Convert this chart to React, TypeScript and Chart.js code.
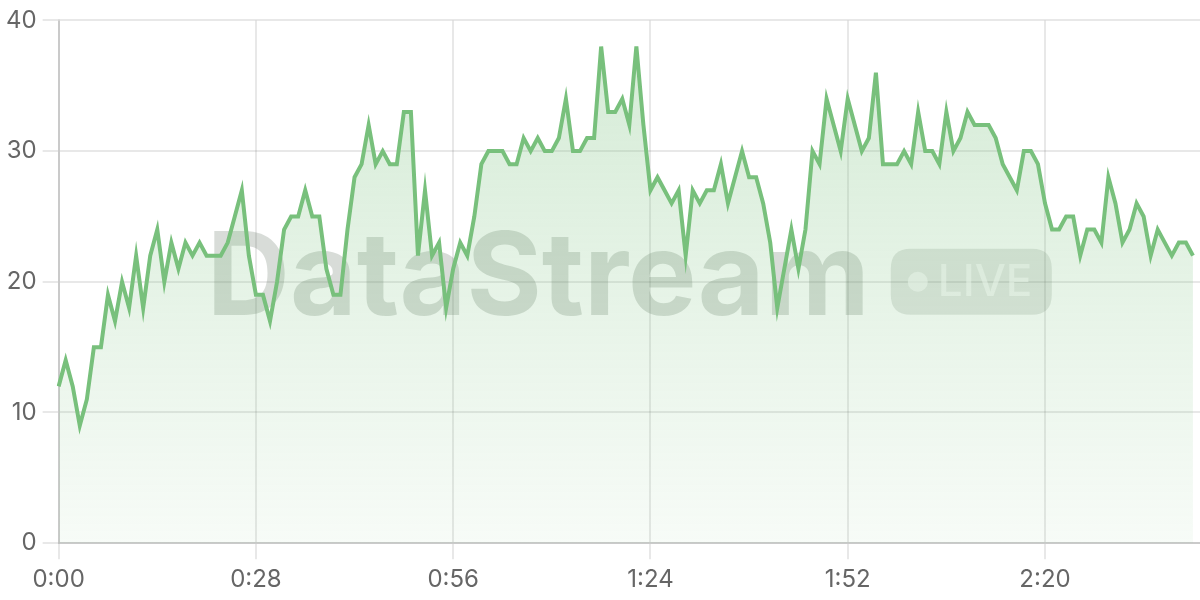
import React, { useEffect, useRef } from "react";
import { Chart, registerables } from "chart.js";

Chart.register(...registerables);

// seconds elapsed (category index) – 163 slots, data fills 162 of them
const SECONDS: number[] = Array.from({ length: 163 }, (_, i) => i);

const TICK_LABELS = ["0:00", "0:28", "0:56", "1:24", "1:52", "2:20"];
const TICK_EVERY = 28;

const VALUES: number[] = [
  12, 14, 12, 9, 11, 15, 15, 19, 17, 20,
  18, 22, 18, 22, 24, 20, 23, 21, 23, 22,
  23, 22, 22, 22, 23, 25, 27, 22, 19, 19,
  17, 20, 24, 25, 25, 27, 25, 25, 21, 19,
  19, 24, 28, 29, 32, 29, 30, 29, 29, 33,
  33, 22, 27, 22, 23, 18, 21, 23, 22, 25,
  29, 30, 30, 30, 29, 29, 31, 30, 31, 30,
  30, 31, 34, 30, 30, 31, 31, 38, 33, 33,
  34, 32, 38, 32, 27, 28, 27, 26, 27, 22,
  27, 26, 27, 27, 29, 26, 28, 30, 28, 28,
  26, 23, 18, 21, 24, 21, 24, 30, 29, 34,
  32, 30, 34, 32, 30, 31, 36, 29, 29, 29,
  30, 29, 33, 30, 30, 29, 33, 30, 31, 33,
  32, 32, 32, 31, 29, 28, 27, 30, 30, 29,
  26, 24, 24, 25, 25, 22, 24, 24, 23, 28,
  26, 23, 24, 26, 25, 22, 24, 23, 22, 23,
  23, 22,
];

const Y_MIN = 0;
const Y_MAX = 40;
const Y_STEP = 10;

const WATERMARK_TEXT = "DataStream";
const WATERMARK_BADGE = "LIVE";

const LINE_COLOR = "rgb(120, 192, 124)";
const FONT_FAMILY = "Inter, 'Helvetica Neue', Helvetica, Arial, sans-serif";

const watermarkPlugin = {
  id: "watermark",
  beforeDatasetsDraw(chart: any) {
    const { ctx, chartArea } = chart;
    const cx = (chartArea.left + chartArea.right) / 2;
    const cy = (chartArea.top + chartArea.bottom) / 2;
    ctx.save();
    ctx.font = `bold 100px ${FONT_FAMILY}`;
    const w100 = ctx.measureText(WATERMARK_TEXT).width;
    const size = (100 * 663) / w100;
    ctx.font = `bold ${size}px ${FONT_FAMILY}`;
    const textW = ctx.measureText(WATERMARK_TEXT).width;
    const gap = 21;
    const pillW = 161;
    const pillH = 66;
    const total = textW + gap + pillW;
    const x0 = cx - total / 2;
    const pillTop = cy - pillH / 2;
    const baseline = pillTop + pillH;
    ctx.fillStyle = "rgba(40, 60, 40, 0.18)";
    ctx.textBaseline = "alphabetic";
    ctx.textAlign = "left";
    ctx.fillText(WATERMARK_TEXT, x0, baseline);
    // pill
    const px = x0 + textW + gap;
    const r = 20;
    ctx.beginPath();
    ctx.moveTo(px + r, pillTop);
    ctx.lineTo(px + pillW - r, pillTop);
    ctx.quadraticCurveTo(px + pillW, pillTop, px + pillW, pillTop + r);
    ctx.lineTo(px + pillW, pillTop + pillH - r);
    ctx.quadraticCurveTo(px + pillW, pillTop + pillH, px + pillW - r, pillTop + pillH);
    ctx.lineTo(px + r, pillTop + pillH);
    ctx.quadraticCurveTo(px, pillTop + pillH, px, pillTop + pillH - r);
    ctx.lineTo(px, pillTop + r);
    ctx.quadraticCurveTo(px, pillTop, px + r, pillTop);
    ctx.closePath();
    ctx.fillStyle = "rgba(40, 60, 40, 0.13)";
    ctx.fill();
    ctx.fillStyle = "rgba(255, 255, 255, 0.6)";
    ctx.beginPath();
    ctx.arc(px + 27, pillTop + pillH / 2, 10, 0, Math.PI * 2);
    ctx.fill();
    ctx.font = `500 44px ${FONT_FAMILY}`;
    ctx.textBaseline = "middle";
    ctx.fillText(WATERMARK_BADGE, px + 47, pillTop + pillH / 2 + 1);
    ctx.restore();
  },
};

export default function App() {
  const canvasRef = useRef<HTMLCanvasElement | null>(null);

  useEffect(() => {
    document.body.style.margin = "0";
    const canvas = canvasRef.current;
    if (!canvas) return;
    const chart = new Chart(canvas, {
      type: "line",
      data: {
        labels: SECONDS,
        datasets: [
          {
            data: VALUES,
            borderColor: LINE_COLOR,
            borderWidth: 4,
            pointRadius: 0,
            tension: 0,
            fill: "origin",
            backgroundColor: (ctx: any) => {
              const area = ctx.chart.chartArea;
              if (!area) return "rgba(120,192,124,0.15)";
              const g = ctx.chart.ctx.createLinearGradient(0, area.top, 0, area.bottom);
              g.addColorStop(0, "rgba(120, 192, 124, 0.32)");
              g.addColorStop(1, "rgba(120, 192, 124, 0.06)");
              return g;
            },
          },
        ],
      },
      options: {
        responsive: false,
        animation: false,
        devicePixelRatio: 1,
        layout: { padding: { top: 8, right: 0, left: 0, bottom: 0 } },
        plugins: {
          legend: { display: false },
          tooltip: { enabled: false },
        },
        scales: {
          x: {
            grid: { color: "rgba(0,0,0,0.09)", lineWidth: 2, tickLength: 16 },
            border: { color: "rgba(0,0,0,0.13)", width: 2 },
            ticks: {
              autoSkip: false,
              maxRotation: 0,
              padding: 6,
              color: "#666",
              font: { size: 24, family: FONT_FAMILY },
              callback: (_v: any, i: number) =>
                i % TICK_EVERY === 0 && TICK_LABELS[i / TICK_EVERY] !== undefined
                  ? TICK_LABELS[i / TICK_EVERY]
                  : null,
            },
          },
          y: {
            min: Y_MIN,
            max: Y_MAX,
            grid: { color: "rgba(0,0,0,0.09)", lineWidth: 2, tickLength: 16 },
            border: { color: "rgba(0,0,0,0.13)", width: 2 },
            ticks: {
              stepSize: Y_STEP,
              padding: 6,
              color: "#666",
              font: { size: 24, family: FONT_FAMILY },
            },
          },
        },
      },
      plugins: [watermarkPlugin],
    });
    return () => chart.destroy();
  }, []);

  return (
    <div style={{ width: 1200, height: 600 }}>
      <canvas ref={canvasRef} width={1200} height={600} style={{ display: "block" }} />
    </div>
  );
}
